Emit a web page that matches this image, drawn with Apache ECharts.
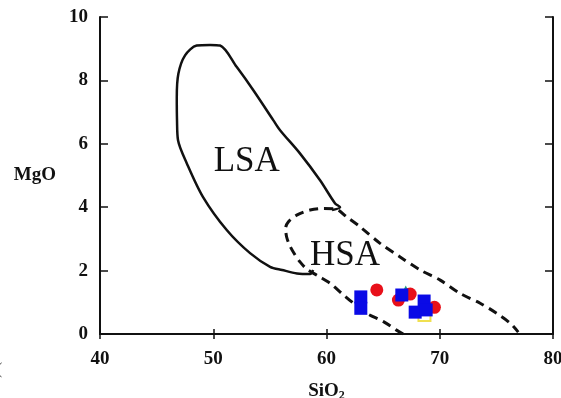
<!DOCTYPE html>
<html>
<head>
<meta charset="utf-8">
<title>MgO vs SiO2</title>
<script src="https://cdn.jsdelivr.net/npm/echarts@6/dist/echarts.min.js"></script>
<style>
  html, body { margin: 0; padding: 0; background: #ffffff; }
  #chart { width: 561px; height: 398px; }
</style>
</head>
<body>
<div id="chart"></div>
<script>
// Axis ranges and ticks
const xTicks = [40, 50, 60, 70, 80];
const yTicks = [0, 2, 4, 6, 8, 10];

// LSA field outline (solid), SiO2 / MgO wt%
const lsaSiO2 = [58.82, 58.55, 57.40, 56.08, 55.02, 53.25, 51.19, 49.10, 47.66, 46.89, 46.80, 46.78, 46.92, 47.51, 48.54, 49.72, 50.60, 52.08, 53.54, 55.31, 55.90, 57.67, 59.43, 60.76, 61.20, 60.49];
const lsaMgO  = [2.02, 1.89, 1.91, 2.02, 2.12, 2.55, 3.28, 4.32, 5.39, 6.11, 6.74, 7.47, 8.21, 8.79, 9.10, 9.12, 9.10, 8.42, 7.69, 6.74, 6.43, 5.69, 4.85, 4.12, 4.00, 3.91];

// HSA field outline (dashed)
const hsaSiO2 = [66.77, 66.15, 65.03, 63.56, 62.38, 61.35, 60.32, 59.26, 58.25, 57.67, 57.23, 56.78, 56.48, 56.39, 56.64, 57.37, 58.55, 59.70, 60.76, 61.79, 62.97, 64.73, 66.50, 68.27, 70.04, 71.80, 73.57, 75.04, 76.22, 76.93];
const hsaMgO  = [0.00, 0.13, 0.39, 0.65, 0.97, 1.28, 1.60, 1.83, 2.05, 2.27, 2.49, 2.77, 3.06, 3.34, 3.54, 3.75, 3.91, 3.96, 3.95, 3.69, 3.38, 2.86, 2.43, 2.02, 1.70, 1.28, 0.97, 0.65, 0.34, 0.06];

// Samples
const redSiO2  = [64.44, 66.35, 67.39, 69.53];
const redMgO   = [1.39, 1.07, 1.26, 0.84];
const blueSiO2 = [63.03, 63.03, 66.65, 68.62, 67.83, 68.80];
const blueMgO  = [1.17, 0.81, 1.23, 1.04, 0.69, 0.76];
const yellowSiO2 = [68.65];
const yellowMgO  = [0.60];
const tealSiO2 = [67.00];
const tealMgO  = [1.42];

// Field names and where they sit
const fieldNames = ['LSA', 'HSA'];
const fieldSiO2  = [52.96, 61.64];
const fieldMgO   = [5.43, 2.46];

const zip = (xs, ys) => xs.map((x, i) => [x, ys[i]]);
const serif = "'Liberation Serif', 'Times New Roman', serif";

const chart = echarts.init(document.getElementById('chart'), null, { renderer: 'canvas' });

const axisLine = { show: true, lineStyle: { color: '#111', width: 2 } };
const tick = len => ({ show: true, inside: true, length: len, lineStyle: { color: '#111', width: 1.5 } });

chart.setOption({
  animation: false,
  backgroundColor: '#ffffff',
  grid: { left: 100, right: 8, top: 17, bottom: 64, containLabel: false, outerBoundsMode: 'none' },
  xAxis: [
    {
      type: 'value', min: xTicks[0], max: xTicks[xTicks.length - 1], interval: 10,
      position: 'bottom',
      axisLine: axisLine,
      axisTick: tick(5),
      splitLine: { show: false },
      axisLabel: { show: true, margin: 16, color: '#111', fontFamily: serif, fontWeight: 'bold', fontSize: 19, showMaxLabel: true },
      name: '{b|SiO}{s|2}',
      nameLocation: 'middle',
      nameGap: 46,
      nameTextStyle: {
        rich: {
          b: { fontFamily: serif, fontWeight: 'bold', fontSize: 19, color: '#111' },
          s: { fontFamily: serif, fontWeight: 'bold', fontSize: 12, color: '#111', padding: [10, 0, 0, 0] }
        }
      }
    },
    {
      type: 'value', min: xTicks[0], max: xTicks[xTicks.length - 1], interval: 10,
      position: 'top',
      axisLine: axisLine,
      axisTick: tick(5),
      splitLine: { show: false },
      axisLabel: { show: false }
    }
  ],
  yAxis: [
    {
      type: 'value', min: yTicks[0], max: yTicks[yTicks.length - 1], interval: 2,
      position: 'left',
      axisLine: axisLine,
      axisTick: tick(8),
      splitLine: { show: false },
      axisLabel: { show: true, margin: 12, color: '#111', fontFamily: serif, fontWeight: 'bold', fontSize: 19 },
      name: 'MgO',
      nameLocation: 'middle',
      nameRotate: 0,
      nameGap: 44,
      nameTextStyle: { fontFamily: serif, fontWeight: 'bold', fontSize: 19, color: '#111', align: 'right', verticalAlign: 'middle' }
    },
    {
      type: 'value', min: yTicks[0], max: yTicks[yTicks.length - 1], interval: 2,
      position: 'right',
      axisLine: axisLine,
      axisTick: tick(8),
      splitLine: { show: false },
      axisLabel: { show: false }
    }
  ],
  graphic: [
    { type: 'text', left: -3, top: 362, style: { text: '(', font: '16px ' + serif, fill: '#555' } }
  ],
  series: [
    {
      name: 'HSA field', type: 'line', data: zip(hsaSiO2, hsaMgO),
      smooth: 0.3, symbol: 'none', silent: true, z: 2,
      lineStyle: { color: '#111', width: 3, type: [9, 6] }
    },
    {
      name: 'LSA field', type: 'line', data: zip(lsaSiO2, lsaMgO),
      smooth: 0.3, symbol: 'none', silent: true, z: 2,
      lineStyle: { color: '#111', width: 2.5, type: 'solid' }
    },
    {
      name: 'Field names', type: 'scatter', data: zip(fieldSiO2, fieldMgO).map((p, i) => ({ value: p, name: fieldNames[i] })),
      symbolSize: 0, z: 3, itemStyle: { opacity: 1 },
      label: { show: true, position: 'inside', formatter: p => p.name, fontFamily: serif, fontSize: 35, color: '#111', opacity: 1 }
    },
    {
      name: 'yellow', type: 'scatter', data: zip(yellowSiO2, yellowMgO), z: 4,
      symbol: 'rect', symbolSize: 12,
      itemStyle: { color: 'rgba(255,255,255,0)', borderColor: '#f0e050', borderWidth: 2, opacity: 1 }
    },
    {
      name: 'teal', type: 'scatter', data: zip(tealSiO2, tealMgO), z: 4,
      symbol: 'triangle', symbolSize: 7,
      itemStyle: { color: '#1a9a80', opacity: 1 }
    },
    {
      name: 'red', type: 'scatter', data: zip(redSiO2, redMgO), z: 5,
      symbol: 'circle', symbolSize: 13,
      itemStyle: { color: '#e8101a', opacity: 1 }
    },
    {
      name: 'blue', type: 'scatter', data: zip(blueSiO2, blueMgO), z: 6,
      symbol: 'rect', symbolSize: 13,
      itemStyle: { color: '#0a0ae6', opacity: 1 }
    }
  ]
});
</script>
</body>
</html>
